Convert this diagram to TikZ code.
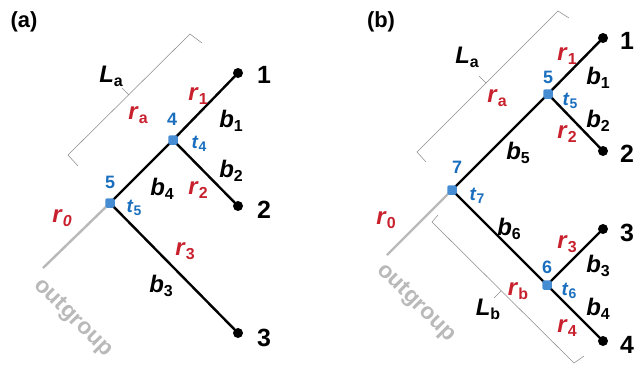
\documentclass[tikz,border=0pt]{standalone}
\usepackage{fontspec}
\setmainfont{Liberation Sans}
\definecolor{myred}{RGB}{200,32,45}
\definecolor{myblue}{RGB}{25,110,190}
\definecolor{dotblue}{RGB}{70,140,210}
\definecolor{mygray}{RGB}{185,185,185}
\definecolor{brgray}{RGB}{140,140,140}
\newcommand{\V}[2]{\textbf{\textit{#1}}\raisebox{-4bp}{\fontsize{16}{16}\selectfont\bfseries#2}}
\newcommand{\VI}[2]{\textbf{\textit{#1}}\raisebox{-4bp}{\fontsize{16}{16}\selectfont\bfseries\itshape#2}}
\newcommand{\T}[1]{\textbf{\textit{t}}\raisebox{-3bp}{\fontsize{14}{14}\selectfont\bfseries#1}}
\begin{document}
\begin{tikzpicture}[x=1bp,y=-1bp,
  branch/.style={line width=2.4bp, black},
  outg/.style={line width=2.4bp, mygray},
  bracebr/.style={line width=0.55bp, brgray},
  leaf/.style={circle, fill=black, inner sep=0, minimum size=10bp},
  inner/.style={rectangle, rounded corners=2bp, fill=dotblue, inner sep=0, minimum size=9.5bp},
  tiplab/.style={font=\fontsize{25}{25}\selectfont\bfseries, inner sep=0},
  rl/.style={text=myred, font=\fontsize{24}{24}\selectfont, inner sep=0},
  bl/.style={text=black, font=\fontsize{24}{24}\selectfont, inner sep=0},
  nl/.style={text=myblue, font=\fontsize{18}{18}\selectfont\bfseries, inner sep=0},
  tl/.style={text=myblue, font=\fontsize{19}{19}\selectfont, inner sep=0},
  ogl/.style={text=mygray, font=\fontsize{23}{23}\selectfont\bfseries, inner sep=0, rotate=-45},
  panel/.style={font=\fontsize{22}{22}\selectfont\bfseries, inner sep=0}
]
\useasboundingbox (0,0) rectangle (635,365);

% ---------- panel (a) ----------
\node[panel] (pa) at (24,22) {(a)};
\coordinate (n5a) at (110,203);
\coordinate (n4a) at (173,140);
\coordinate (oga) at (43,268);
\node[leaf] (l1a) at (238,73) {};
\node[leaf] (l2a) at (238,206) {};
\node[leaf] (l3a) at (238,333) {};
\draw[outg] (n5a) -- (oga);
\draw[branch] (n5a) -- (n4a);
\draw[branch] (n4a) -- (l1a.center);
\draw[branch] (n4a) -- (l2a.center);
\draw[branch] (n5a) -- (l3a.center);
\node[inner] (d5a) at (n5a) {};
\node[inner] (d4a) at (n4a) {};
\node[tiplab] (t1a) at (264,75) {1};
\node[tiplab] (t2a) at (264,210) {2};
\node[tiplab] (t3a) at (264,338) {3};
% brace
\coordinate (ba1) at (202,43);
\coordinate (ba2) at (190,34);
\coordinate (ba3) at (68,155);
\coordinate (ba4) at (78,166);
\coordinate (bam) at (129,95);
\coordinate (bat) at (122,88);
\draw[bracebr] (ba1) -- (ba2) -- (ba3) -- (ba4);
\draw[bracebr] (bam) -- (bat);
\node[bl] (La) at (111,76) {\V{L}{a}};
\node[rl] (ra) at (138,115) {\V{r}{a}};
\node[rl] (r1a) at (198,96) {\V{r}{1}};
\node[bl] (b1a) at (231,121) {\V{b}{1}};
\node[nl] (k4a) at (172,119) {4};
\node[tl] (tt4) at (199,144) {\T{4}};
\node[bl] (b2a) at (231,171) {\V{b}{2}};
\node[rl] (r2a) at (198,190) {\V{r}{2}};
\node[bl] (b4a) at (162,189) {\V{b}{4}};
\node[nl] (k5a) at (110,182) {5};
\node[tl] (tt5a) at (134,208) {\T{5}};
\node[rl] (r0a) at (62,218) {\VI{r}{0}};
\node[rl] (r3a) at (185,251) {\V{r}{3}};
\node[bl] (b3a) at (161,286) {\V{b}{3}};
\node[ogl] (oglab) at (73,318) {outgroup};

% ---------- panel (b) ----------
\node[panel] (pb) at (381,22) {(b)};
\coordinate (n7) at (452,190);
\coordinate (n5b) at (548,94);
\coordinate (n6) at (547,285);
\coordinate (ogb) at (387,255);
\node[leaf] (l1b) at (603,38) {};
\node[leaf] (l2b) at (603,151) {};
\node[leaf] (l3b) at (603,229) {};
\node[leaf] (l4b) at (603,341) {};
\draw[outg] (n7) -- (ogb);
\draw[branch] (n7) -- (n5b);
\draw[branch] (n5b) -- (l1b.center);
\draw[branch] (n5b) -- (l2b.center);
\draw[branch] (n7) -- (n6);
\draw[branch] (n6) -- (l3b.center);
\draw[branch] (n6) -- (l4b.center);
\node[inner] (d7) at (n7) {};
\node[inner] (d5b) at (n5b) {};
\node[inner] (d6) at (n6) {};
\node[tiplab] (t1b) at (627,41) {1};
\node[tiplab] (t2b) at (627,154) {2};
\node[tiplab] (t3b) at (627,233) {3};
\node[tiplab] (t4b) at (627,345) {4};
% brace La
\coordinate (bb1) at (569,18);
\coordinate (bb2) at (558,11);
\coordinate (bb3) at (417,152);
\coordinate (bb4) at (426,162);
\coordinate (bbm) at (486,83);
\coordinate (bbt) at (479,76);
\draw[bracebr] (bb1) -- (bb2) -- (bb3) -- (bb4);
\draw[bracebr] (bbm) -- (bbt);
% brace Lb
\coordinate (bc1) at (438,215);
\coordinate (bc2) at (432,222);
\coordinate (bc3) at (574,363);
\coordinate (bc4) at (584,356);
\coordinate (bcm) at (501,291);
\coordinate (bct) at (494,298);
\draw[bracebr] (bc1) -- (bc2) -- (bc3) -- (bc4);
\draw[bracebr] (bcm) -- (bct);
\node[bl] (Lab) at (467,57) {\V{L}{a}};
\node[rl] (rab) at (497,98) {\V{r}{a}};
\node[rl] (r1b) at (567,56) {\V{r}{1}};
\node[bl] (b1b) at (598,78) {\V{b}{1}};
\node[nl] (k5b) at (548,77) {5};
\node[tl] (tt5b) at (570,101) {\T{5}};
\node[bl] (b2b) at (598,121) {\V{b}{2}};
\node[rl] (r2b) at (567,134) {\V{r}{2}};
\node[bl] (b5b) at (518,153) {\V{b}{5}};
\node[nl] (k7) at (457,167) {7};
\node[tl] (tt7) at (477,196) {\T{7}};
\node[rl] (r0b) at (386,220) {\V{r}{0}};
\node[bl] (b6b) at (509,229) {\V{b}{6}};
\node[rl] (r3b) at (567,244) {\V{r}{3}};
\node[bl] (b3b) at (598,266) {\V{b}{3}};
\node[nl] (k6) at (547,267) {6};
\node[tl] (tt6) at (569,291) {\T{6}};
\node[rl] (rbb) at (518,291) {\V{r}{b}};
\node[bl] (b4b) at (598,309) {\V{b}{4}};
\node[rl] (r4b) at (567,328) {\V{r}{4}};
\node[bl] (Lbb) at (488,309) {\V{L}{b}};
\node[ogl] (oglabb) at (416,303) {outgroup};
\end{tikzpicture}
\end{document}
